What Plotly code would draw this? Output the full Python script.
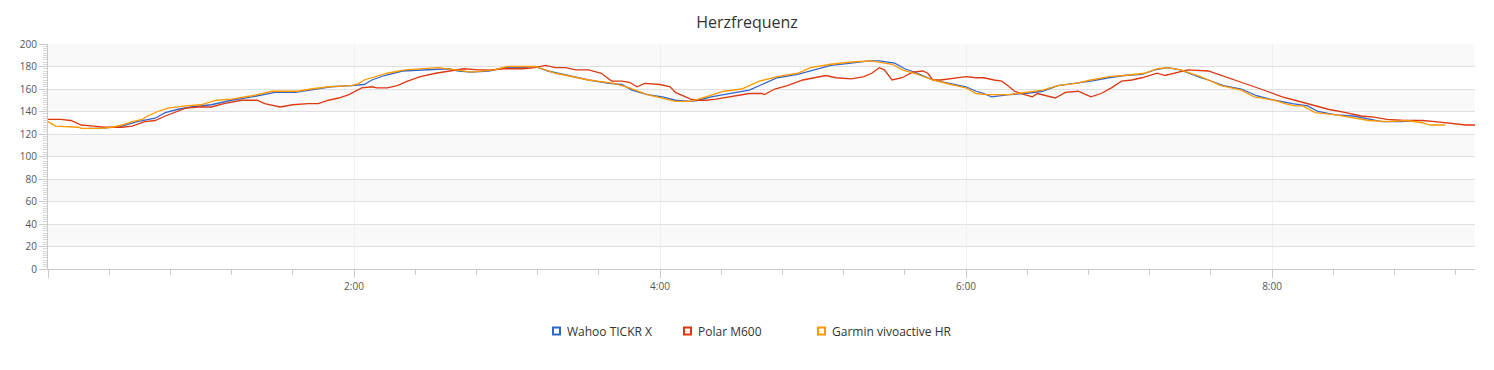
import plotly.graph_objects as go

# ---- data (time in seconds, heart rate in bpm) ----
t_wahoo = [16, 21, 29, 35, 42, 46, 51, 56, 64, 72, 80, 89, 97, 103, 111, 119, 124, 127, 132, 139,
           146, 157, 161, 166, 173, 179, 186, 191, 196, 204, 212, 220, 225, 229, 235, 241, 246, 252,
           255, 260, 268, 275, 280, 286, 294, 301, 307, 315, 322, 326, 332, 336, 341, 347, 353, 360,
           364, 367, 370, 377, 383, 390, 396, 403, 409, 416, 422, 429, 434, 439, 444, 452, 455, 461,
           468, 474, 481, 488, 494, 498, 505, 512, 518, 523, 531, 536]
hr_wahoo = [125, 125, 127, 131, 134, 139, 142, 144, 146, 150, 153, 157, 157, 159, 162, 163, 164, 168,
            172, 176, 177, 178, 176, 175, 176, 179, 179, 180, 176, 172, 168, 165, 164, 159, 155, 153,
            150, 149, 150, 153, 156, 159, 164, 170, 173, 177, 181, 183, 185, 185, 183, 178, 174, 168,
            165, 162, 158, 156, 153, 155, 156, 158, 163, 165, 167, 170, 172, 173, 177, 179, 177, 170,
            168, 163, 160, 154, 150, 147, 145, 140, 137, 136, 133, 131, 131, 132]

t_polar = [0, 5, 9, 13, 18, 22, 29, 33, 38, 42, 46, 51, 54, 59, 64, 69, 73, 76, 82, 85, 91, 96, 102,
           106, 110, 114, 118, 121, 123, 127, 129, 133, 137, 141, 146, 152, 157, 163, 169, 174, 179,
           186, 191, 195, 199, 203, 207, 212, 217, 221, 225, 228, 231, 234, 240, 244, 246, 250, 252,
           255, 258, 262, 268, 275, 280, 281, 285, 290, 296, 301, 305, 309, 315, 320, 323, 326, 328,
           331, 335, 339, 343, 345, 347, 350, 354, 360, 364, 367, 371, 374, 377, 379, 383, 386, 388,
           392, 395, 399, 404, 407, 409, 413, 417, 421, 425, 429, 433, 435, 438, 442, 447, 455, 459,
           463, 467, 473, 478, 484, 489, 495, 502, 509, 515, 520, 525, 532, 539, 544, 549, 556, 560]
hr_polar = [133, 133, 132, 128, 127, 126, 126, 127, 131, 132, 136, 140, 143, 144, 144, 147, 149, 150,
            150, 147, 144, 146, 147, 147, 150, 152, 155, 159, 161, 162, 161, 161, 163, 167, 171, 174,
            176, 178, 177, 177, 178, 178, 179, 181, 179, 179, 177, 177, 174, 167, 167, 166, 162, 165,
            164, 162, 157, 153, 151, 150, 150, 151, 153, 156, 156, 155, 160, 163, 168, 170, 172, 170,
            169, 171, 174, 179, 177, 168, 170, 175, 176, 174, 168, 168, 169, 171, 170, 170, 168, 167,
            162, 158, 155, 153, 156, 154, 152, 157, 158, 155, 153, 156, 161, 167, 168, 170, 173, 174,
            172, 174, 177, 176, 173, 170, 167, 162, 158, 153, 150, 146, 142, 139, 136, 135, 133, 132,
            132, 131, 130, 128, 128]

t_garmin = [0, 3, 12, 13, 21, 25, 29, 33, 37, 39, 43, 47, 54, 60, 66, 72, 80, 88, 93, 98, 103, 110,
            119, 122, 124, 127, 133, 140, 153, 160, 166, 175, 180, 191, 194, 199, 212, 222, 228, 235,
            246, 252, 258, 265, 272, 279, 286, 294, 299, 307, 315, 323, 331, 335, 341, 347, 354, 360,
            364, 368, 377, 383, 390, 396, 403, 409, 416, 422, 430, 435, 439, 444, 452, 460, 468, 473,
            481, 485, 489, 492, 497, 505, 512, 518, 525, 533, 539, 542, 548]
hr_garmin = [131, 127, 126, 125, 125, 126, 128, 131, 133, 136, 140, 143, 145, 146, 150, 151, 154, 158,
             158, 158, 160, 162, 163, 165, 168, 170, 174, 177, 179, 177, 175, 177, 180, 180, 178, 174,
             168, 165, 161, 155, 149, 149, 153, 158, 160, 167, 171, 174, 179, 182, 184, 185, 182, 177,
             173, 168, 164, 161, 156, 155, 155, 157, 159, 163, 165, 168, 171, 172, 174, 178, 179, 177,
             171, 163, 159, 153, 150, 147, 145, 145, 139, 137, 134, 132, 131, 132, 130, 128, 128]

series_names = ["Wahoo TICKR X", "Polar M600", "Garmin vivoactive HR"]
series_colors = ["#3366cc", "#dc3912", "#ff9900"]
x_tick_vals = [0, 120, 240, 360, 480]
x_tick_text = ["", "2:00", "4:00", "6:00", "8:00"]
y_tick_vals = list(range(0, 201, 20))
band_starts = [20, 60, 100, 140, 180]

FONT = "Segoe UI, Open Sans, sans-serif"
W, H = 1494, 370
ML, MR, MT, MB = 48, 19, 44, 101
PW, PH = W - ML - MR, H - MT - MB


def px_x(p):
    return (p - ML) / PW


def px_y(p):
    return (H - MB - p) / PH


fig = go.Figure()
data = [(t_wahoo, hr_wahoo), (t_polar, hr_polar), (t_garmin, hr_garmin)]
for (tx, hy), name, col in zip(data, series_names, series_colors):
    fig.add_trace(go.Scatter(x=tx, y=hy, mode="lines", name=name, showlegend=False,
                             line=dict(color=col, width=1.3), hoverinfo="x+y+name"))

for b in band_starts:
    fig.add_shape(type="rect", xref="paper", x0=0, x1=1, yref="y", y0=b, y1=b + 20,
                  fillcolor="#f9f9f9", line=dict(width=0), layer="below")

# legend (hollow squares + labels)
legend_left_px = [552, 683, 817]
legend_mid_py = 331
for lx, name, col in zip(legend_left_px, series_names, series_colors):
    fig.add_shape(type="rect", xref="paper", yref="paper",
                  x0=px_x(lx + 1), x1=px_x(lx + 8), y0=px_y(legend_mid_py + 3.5), y1=px_y(legend_mid_py - 3.5),
                  line=dict(color=col, width=2), fillcolor="white")
    fig.add_annotation(xref="paper", yref="paper", x=px_x(lx + 13), y=px_y(legend_mid_py),
                       xanchor="left", yanchor="middle", showarrow=False, text=name,
                       font=dict(family=FONT, size=12, color="#333333"))

fig.update_layout(
    width=W, height=H,
    margin=dict(l=ML, r=MR, t=MT, b=MB),
    paper_bgcolor="white", plot_bgcolor="white",
    font=dict(family=FONT, color="#555555", size=10),
    title=dict(text="Herzfrequenz", x=0.5, xanchor="center", y=1 - 22 / H, yanchor="middle",
               font=dict(family=FONT, size=16, color="#333333")),
    showlegend=False,
)
fig.update_xaxes(range=[0, 559.6], tickmode="array", tickvals=x_tick_vals, ticktext=x_tick_text,
                 showgrid=True, gridcolor="#f0f0f0", gridwidth=1, zeroline=False,
                 showline=True, linecolor="#c8c8c8", linewidth=1,
                 ticks="outside", ticklen=8, tickcolor="#cccccc", tickwidth=1,
                 tickfont=dict(size=10, color="#555555"),
                 minor=dict(tickmode="linear", tick0=0, dtick=24, ticks="outside", ticklen=5,
                            tickcolor="#cccccc", showgrid=False))
fig.update_yaxes(range=[0, 200], tickmode="array", tickvals=y_tick_vals,
                 showgrid=True, gridcolor="#e0e0e0", gridwidth=1, zeroline=False,
                 showline=True, linecolor="#c8c8c8", linewidth=1,
                 ticks="outside", ticklen=8, tickcolor="#cccccc", tickwidth=1,
                 tickfont=dict(size=10, color="#555555"),
                 minor=dict(tickmode="linear", tick0=0, dtick=2, ticks="outside", ticklen=4,
                            tickcolor="#d8d8d8", showgrid=False))

fig.write_html("out.html", config={"displayModeBar": False},
               post_script="document.body.style.margin='0';")
